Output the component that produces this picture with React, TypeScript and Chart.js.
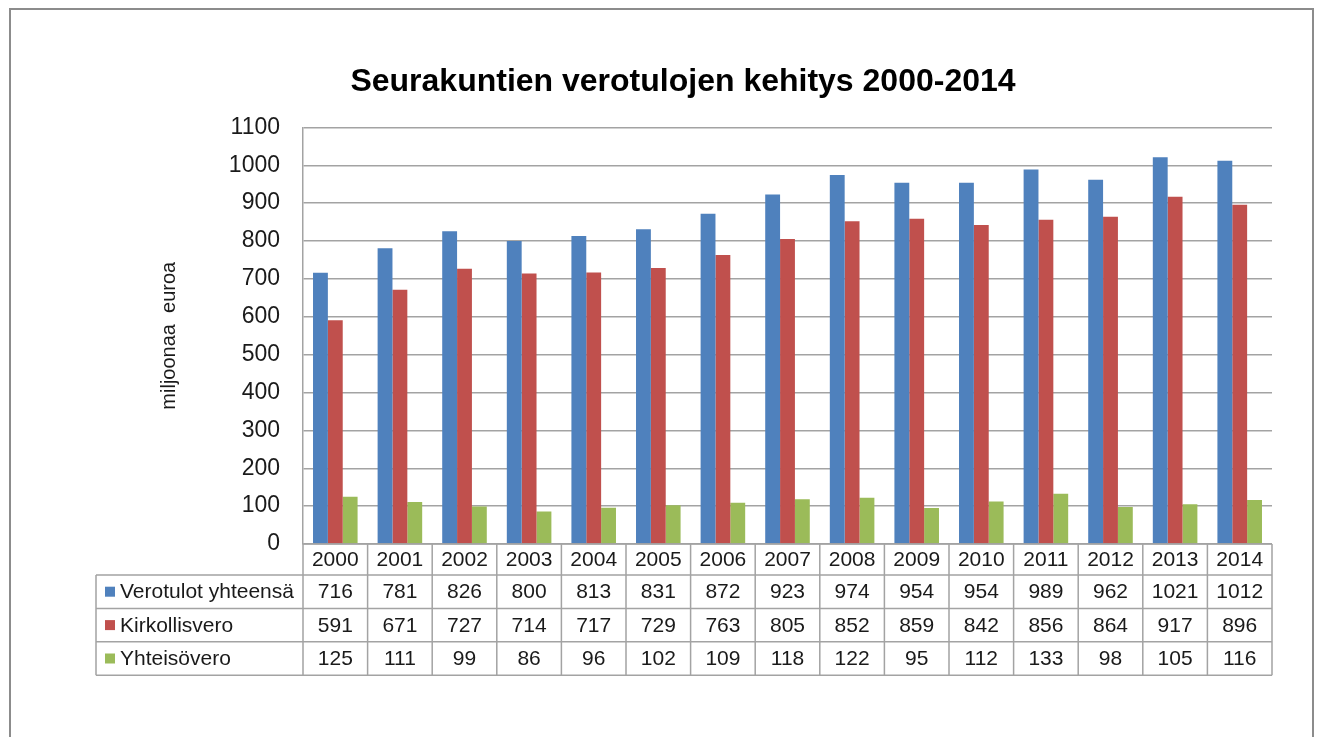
import React, { useEffect, useRef } from "react";
import { Chart, registerables } from "chart.js";

Chart.register(...registerables);

const chartTitle = "Seurakuntien verotulojen kehitys 2000-2014";
const yAxisTitle = "miljoonaa  euroa";
const years = ["2000", "2001", "2002", "2003", "2004", "2005", "2006", "2007", "2008", "2009", "2010", "2011", "2012", "2013", "2014"];
const verotulot = [716, 781, 826, 800, 813, 831, 872, 923, 974, 954, 954, 989, 962, 1021, 1012];
const kirkollisvero = [591, 671, 727, 714, 717, 729, 763, 805, 852, 859, 842, 856, 864, 917, 896];
const yhteisovero = [125, 111, 99, 86, 96, 102, 109, 118, 122, 95, 112, 133, 98, 105, 116];
const seriesNames = ["Verotulot yhteensä", "Kirkollisvero", "Yhteisövero"];
const seriesColors = ["#4F81BD", "#C0504D", "#9BBB59"];
const yMin = 0;
const yMax = 1100;
const yStep = 100;

const FONT = "'Liberation Sans', Arial, sans-serif";
const LINE = "#a3a3a3";

const frameAndTable = {
  id: "frameAndTable",
  beforeDraw(chart: any) {
    const ctx = chart.ctx;
    ctx.save();
    ctx.fillStyle = "#ffffff";
    ctx.fillRect(0, 0, chart.width, chart.height);
    ctx.strokeStyle = "#8c8c8c";
    ctx.lineWidth = 2;
    ctx.strokeRect(10, 9, 1303, 800);
    ctx.restore();
  },
  afterDraw(chart: any) {
    const ctx = chart.ctx;
    const area = chart.chartArea;
    const x = chart.scales.x;
    const n = years.length;
    const colW = x.getPixelForValue(1) - x.getPixelForValue(0);
    const top = area.bottom;
    const headerH = 31;
    const rowH = 33.4;
    const legendLeft = 96;
    const bottom = top + headerH + rowH * 3;
    const rows = [verotulot, kirkollisvero, yhteisovero];

    ctx.save();
    ctx.strokeStyle = LINE;
    ctx.lineWidth = 1.5;
    ctx.beginPath();
    ctx.moveTo(area.left, top);
    ctx.lineTo(area.right, top);
    for (let r = 0; r <= 3; r++) {
      const yy = top + headerH + rowH * r;
      ctx.moveTo(legendLeft, yy);
      ctx.lineTo(area.right, yy);
    }
    for (let i = 0; i <= n; i++) {
      const xx = x.getPixelForValue(0) - colW / 2 + colW * i;
      ctx.moveTo(xx, top);
      ctx.lineTo(xx, bottom);
    }
    ctx.moveTo(legendLeft, top + headerH);
    ctx.lineTo(legendLeft, bottom);
    ctx.stroke();

    ctx.fillStyle = "#1a1a1a";
    ctx.font = `21px ${FONT}`;
    ctx.textAlign = "center";
    ctx.textBaseline = "middle";
    for (let i = 0; i < n; i++) {
      const cx = x.getPixelForValue(i);
      ctx.fillText(years[i], cx, top + headerH / 2 + 1);
      for (let r = 0; r < 3; r++) {
        ctx.fillText(String(rows[r][i]), cx, top + headerH + rowH * r + rowH / 2 + 1);
      }
    }
    ctx.textAlign = "left";
    for (let r = 0; r < 3; r++) {
      const cy = top + headerH + rowH * r + rowH / 2;
      ctx.fillStyle = seriesColors[r];
      ctx.fillRect(105, cy - 5, 10, 10);
      ctx.fillStyle = "#1a1a1a";
      ctx.fillText(seriesNames[r], 120, cy + 1);
    }
    ctx.restore();
  },
};

export default function App() {
  const ref = useRef<HTMLCanvasElement | null>(null);
  useEffect(() => {
    if (!ref.current) return;
    const chart = new Chart(ref.current, {
      type: "bar",
      data: {
        labels: years,
        datasets: [
          { label: seriesNames[0], data: verotulot, backgroundColor: seriesColors[0] },
          { label: seriesNames[1], data: kirkollisvero, backgroundColor: seriesColors[1] },
          { label: seriesNames[2], data: yhteisovero, backgroundColor: seriesColors[2] },
        ],
      },
      options: {
        responsive: false,
        animation: false,
        datasets: { bar: { categoryPercentage: 0.69, barPercentage: 1.0 } },
        layout: { padding: { left: 94, right: 48, top: 50, bottom: 193 } },
        plugins: {
          legend: { display: false },
          tooltip: { enabled: false },
          title: {
            display: true,
            text: chartTitle,
            color: "#000000",
            font: { family: FONT, size: 32, weight: "bold" },
            padding: { top: 13, bottom: 26 },
          },
        },
        scales: {
          x: { display: false, offset: true },
          y: {
            min: yMin,
            max: yMax,
            afterFit: (scale: any) => {
              scale.width = 209;
            },
            ticks: {
              stepSize: yStep,
              padding: 23,
              color: "#1a1a1a",
              font: { family: FONT, size: 23 },
              callback: (v: any) => String(v),
            },
            grid: { color: LINE, lineWidth: 1.5, drawTicks: false },
            border: { display: true, color: LINE, width: 1.5 },
            title: {
              display: true,
              text: yAxisTitle,
              color: "#1a1a1a",
              font: { family: FONT, size: 20 },
              padding: { top: 63, bottom: 0 },
            },
          },
        },
      },
      plugins: [frameAndTable],
    });
    return () => chart.destroy();
  }, []);
  return (
    <div style={{ position: "absolute", left: 0, top: 0, width: 1320, height: 737, background: "#fff" }}>
      <canvas ref={ref} width={1320} height={737} style={{ display: "block" }} />
    </div>
  );
}
